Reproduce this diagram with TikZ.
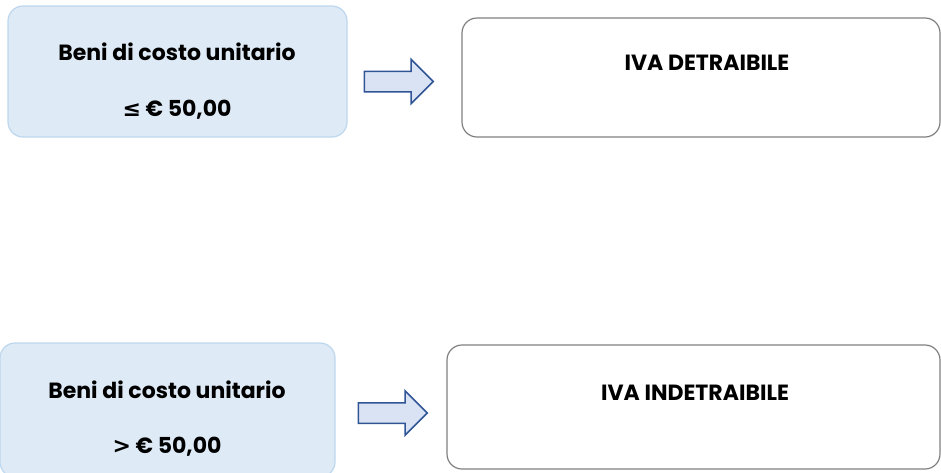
\documentclass[tikz,border=0pt]{standalone}
\usepackage{fontspec}
\setmainfont{Poppins}
\newfontfamily\symfont{DejaVu Sans}
\usetikzlibrary{positioning}
\usetikzlibrary{shapes.arrows}
\definecolor{beni-fill}{HTML}{DEEAF6}
\definecolor{beni-line}{HTML}{BDD7EE}
\definecolor{freccia-fill}{HTML}{DAE3F3}
\definecolor{freccia-line}{HTML}{2F5597}
\definecolor{iva-line}{HTML}{7F7F7F}

\begin{document}
\begin{tikzpicture}[x=1pt, y=-1pt, font=\fontsize{22}{26}\selectfont\bfseries,
  text only/.style={inner sep=2pt, align=center},
  beni box/.style={draw=beni-line, fill=beni-fill, line width=1.2pt, rounded corners=15pt, inner sep=0pt},
  iva box/.style={draw=iva-line, line width=1.2pt, rounded corners=15pt, inner sep=0pt},
  freccia/.style={draw=freccia-line, fill=freccia-fill, line width=1.5pt, single arrow, anchor=tail,
    single arrow head extend=12pt, minimum height=69pt, inner xsep=0pt, inner ysep=9.5pt}]
\useasboundingbox (0,0) rectangle (941,472);
% first case
\node[beni box, minimum width=339pt, minimum height=131pt]
  (beni-le)
  at (177.5, 71.5)
  {};
\node[text only] (beni-le-a) at (177, 52) {Beni di costo unitario};
\node[text only] (beni-le-b) at (177, 110) {{\symfont ≤} € 50,00};
\node[freccia]
  (freccia-le)
  at (363.5, 81.5)
  {};
\node[iva box, minimum width=478pt, minimum height=119pt]
  (iva-det)
  at (701, 77.5)
  {};
\node[text only] (iva-det-txt) at (707, 63) {IVA DETRAIBILE};
% second case
\node[beni box, minimum width=335pt, minimum height=134pt]
  (beni-gt)
  at (167.5, 410)
  {};
\node[text only] (beni-gt-a) at (167, 390) {Beni di costo unitario};
\node[text only] (beni-gt-b) at (167, 447) {{\symfont >} € 50,00};
\node[freccia]
  (freccia-gt)
  at (357.5, 413)
  {};
\node[iva box, minimum width=493pt, minimum height=124pt]
  (iva-ind)
  at (693.5, 407)
  {};
\node[text only] (iva-ind-txt) at (695, 393) {IVA INDETRAIBILE};
\end{tikzpicture}
\end{document}
